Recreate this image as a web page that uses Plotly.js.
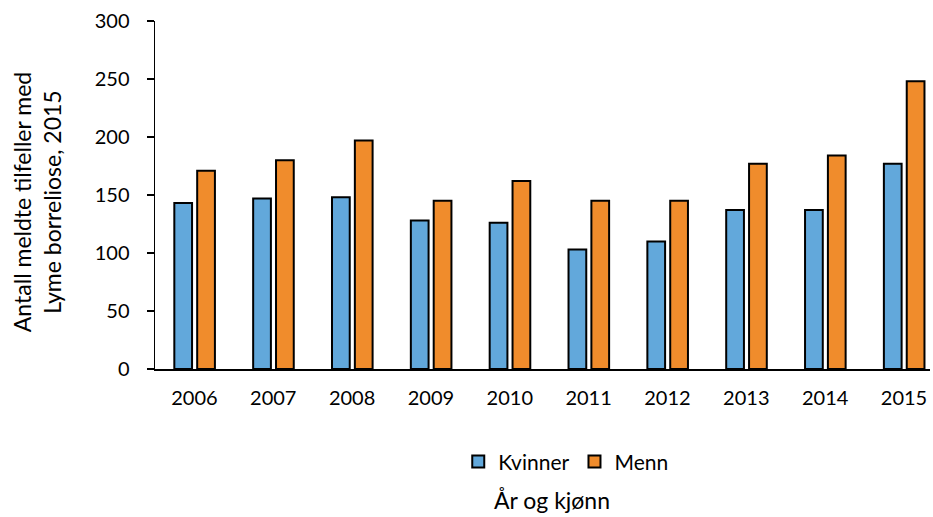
<!DOCTYPE html>
<html>
<head>
<meta charset="utf-8">
<script src="https://cdn.plot.ly/plotly-3.0.1.min.js"></script>
<style>html,body{margin:0;padding:0;background:#fff;}#chart{width:933px;height:517px;}</style>
</head>
<body>
<div id="chart"></div>
<script>
const years = ["2006","2007","2008","2009","2010","2011","2012","2013","2014","2015"];
const kvinner = [143, 147, 148, 128, 126, 103, 110, 137, 137, 177];
const menn = [171, 180, 197, 145, 162, 145, 145, 177, 184, 248];
const yTicks = [0, 50, 100, 150, 200, 250, 300];

const FONT = "Lato, Open Sans, sans-serif";

const traces = [
  {type:"bar", name:"Kvinner", x:years, y:kvinner, offset:-0.255, width:0.225,
   marker:{color:"#62A8DB", line:{color:"#000", width:2}}},
  {type:"bar", name:"Menn", x:years, y:menn, offset:0.035, width:0.225,
   marker:{color:"#F08C2C", line:{color:"#000", width:2}}}
];

const layout = {
  width:933, height:517,
  margin:{l:155, r:3, t:21, b:148},
  paper_bgcolor:"#fff", plot_bgcolor:"#fff",
  barmode:"overlay",
  showlegend:true,
  font:{family:FONT, size:20, color:"#000"},
  xaxis:{type:"category", range:[-0.5, 9.33], showgrid:false, zeroline:false,
    showline:true, linecolor:"#000", linewidth:2, ticks:"", ticklabelstandoff:10,
    tickfont:{family:FONT, size:20, color:"#000"}},
  yaxis:{range:[0,300], tickvals:yTicks, showgrid:false, zeroline:false,
    showline:true, linecolor:"#000", linewidth:1.5, ticks:"outside", ticklen:7,
    tickcolor:"#000", tickwidth:1.5, ticklabelstandoff:13,
    tickfont:{family:FONT, size:20, color:"#000"}},
  legend:{orientation:"h", x:0.53, xanchor:"center", y:-0.267, yanchor:"middle",
    font:{family:FONT, size:21, color:"#000"}, itemwidth:30, traceorder:"normal"},
  annotations:[
    {text:"År og kjønn", xref:"paper", yref:"paper", x:0.512, y:-0.376,
     xanchor:"center", yanchor:"middle", showarrow:false,
     font:{family:FONT, size:23, color:"#000"}},
    {text:"Antall meldte tilfeller med<br>Lyme borreliose, 2015", xref:"paper", yref:"paper",
     x:-0.152, y:0.48, xanchor:"center", yanchor:"middle", showarrow:false, textangle:-90,
     font:{family:FONT, size:23, color:"#000"}}
  ]
};

Plotly.newPlot("chart", traces, layout, {displayModeBar:false, staticPlot:true});
</script>
</body>
</html>
